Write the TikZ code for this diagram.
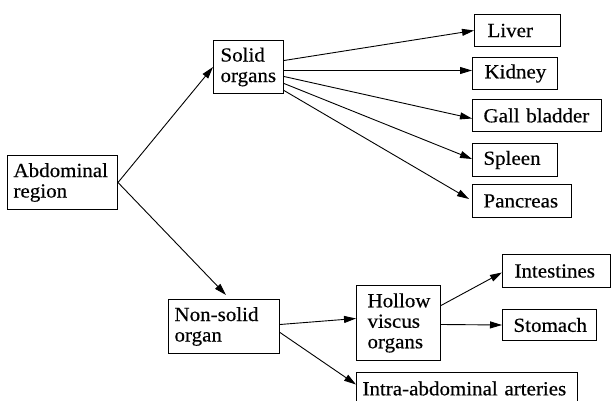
\documentclass[tikz,border=0pt]{standalone}
\usepackage{fontspec}
\setmainfont{Liberation Serif}[FakeStretch=1.05,FakeBold=0.4]
\usetikzlibrary{arrows.meta}
\begin{document}
\begin{tikzpicture}[x=1pt,y=-1pt,
  box/.style={draw, line width=1pt, anchor=north west, align=left, inner ysep=0pt,
    font=\fontsize{20}{20.5}\selectfont},
  arr/.style={-{Triangle[length=12pt,width=7pt]}, line width=0.9pt}]
\useasboundingbox (0,0) rectangle (611,401);
% boxes
\node[box, minimum height=54pt, text width=98pt, inner xsep=6pt] (abd) at (7,155) {Abdominal\\region};
\node[box, minimum height=53pt, text width=56pt, inner xsep=7pt] (solid) at (213,40) {Solid\\organs};
\node[box, minimum height=32pt, text width=60pt, inner xsep=13pt] (liver) at (474,14) {Liver};
\node[box, minimum height=32pt, text width=61pt, inner xsep=12pt] (kidney) at (472,57) {Kidney};
\node[box, minimum height=32pt, text width=107pt, inner xsep=11pt] (gall) at (472,99) {Gall bladder};
\node[box, minimum height=33pt, text width=63pt, inner xsep=11pt] (spleen) at (472,143) {Spleen};
\node[box, minimum height=33pt, text width=77pt, inner xsep=11pt] (pancreas) at (472,184) {Pancreas};
\node[box, minimum height=54pt, text width=99pt, inner xsep=6pt] (nonsolid) at (168,299) {Non-solid\\organ};
\node[box, minimum height=75pt, text width=62pt, inner xsep=11pt] (hollow) at (356,285) {Hollow\\viscus\\organs};
\node[box, minimum height=33pt, text width=84pt, inner xsep=12pt] (intestines) at (502,254) {Intestines};
\node[box, minimum height=31pt, text width=72pt, inner xsep=11pt] (stomach) at (502,309) {Stomach};
\node[box, minimum height=32pt, text width=209pt, inner xsep=6pt] (intra) at (356,372) {Intra-abdominal arteries};
% connectors
\draw[arr] (abd.east) -- (solid.west);
\draw[arr] (abd.east) -- ([shift={(2,-4)}]nonsolid.north);
\draw[arr] ([shift={(0,-6.5)}]solid.east) -- (liver.west);
\draw[arr] ([shift={(0,3.5)}]solid.east) -- ([shift={(0,-3)}]kidney.west);
\draw[arr] ([shift={(0,9.5)}]solid.east) -- ([shift={(0,3)}]gall.west);
\draw[arr] ([shift={(0,16.5)}]solid.east) -- ([shift={(0,-1)}]spleen.west);
\draw[arr] ([shift={(0,23.5)}]solid.east) -- ([shift={(-3,-2)}]pancreas.west);
\draw[arr] ([shift={(0,-2)}]nonsolid.east) -- ([shift={(0,-4.5)}]hollow.west);
\draw[arr] ([shift={(0,6)}]nonsolid.east) -- ([shift={(0,-4)}]intra.west);
\draw[arr] ([shift={(0,-17.5)}]hollow.east) -- ([shift={(0,1.5)}]intestines.west);
\draw[arr] ([shift={(0,1.5)}]hollow.east) -- ([shift={(0,0)}]stomach.west);
\end{tikzpicture}
\end{document}
